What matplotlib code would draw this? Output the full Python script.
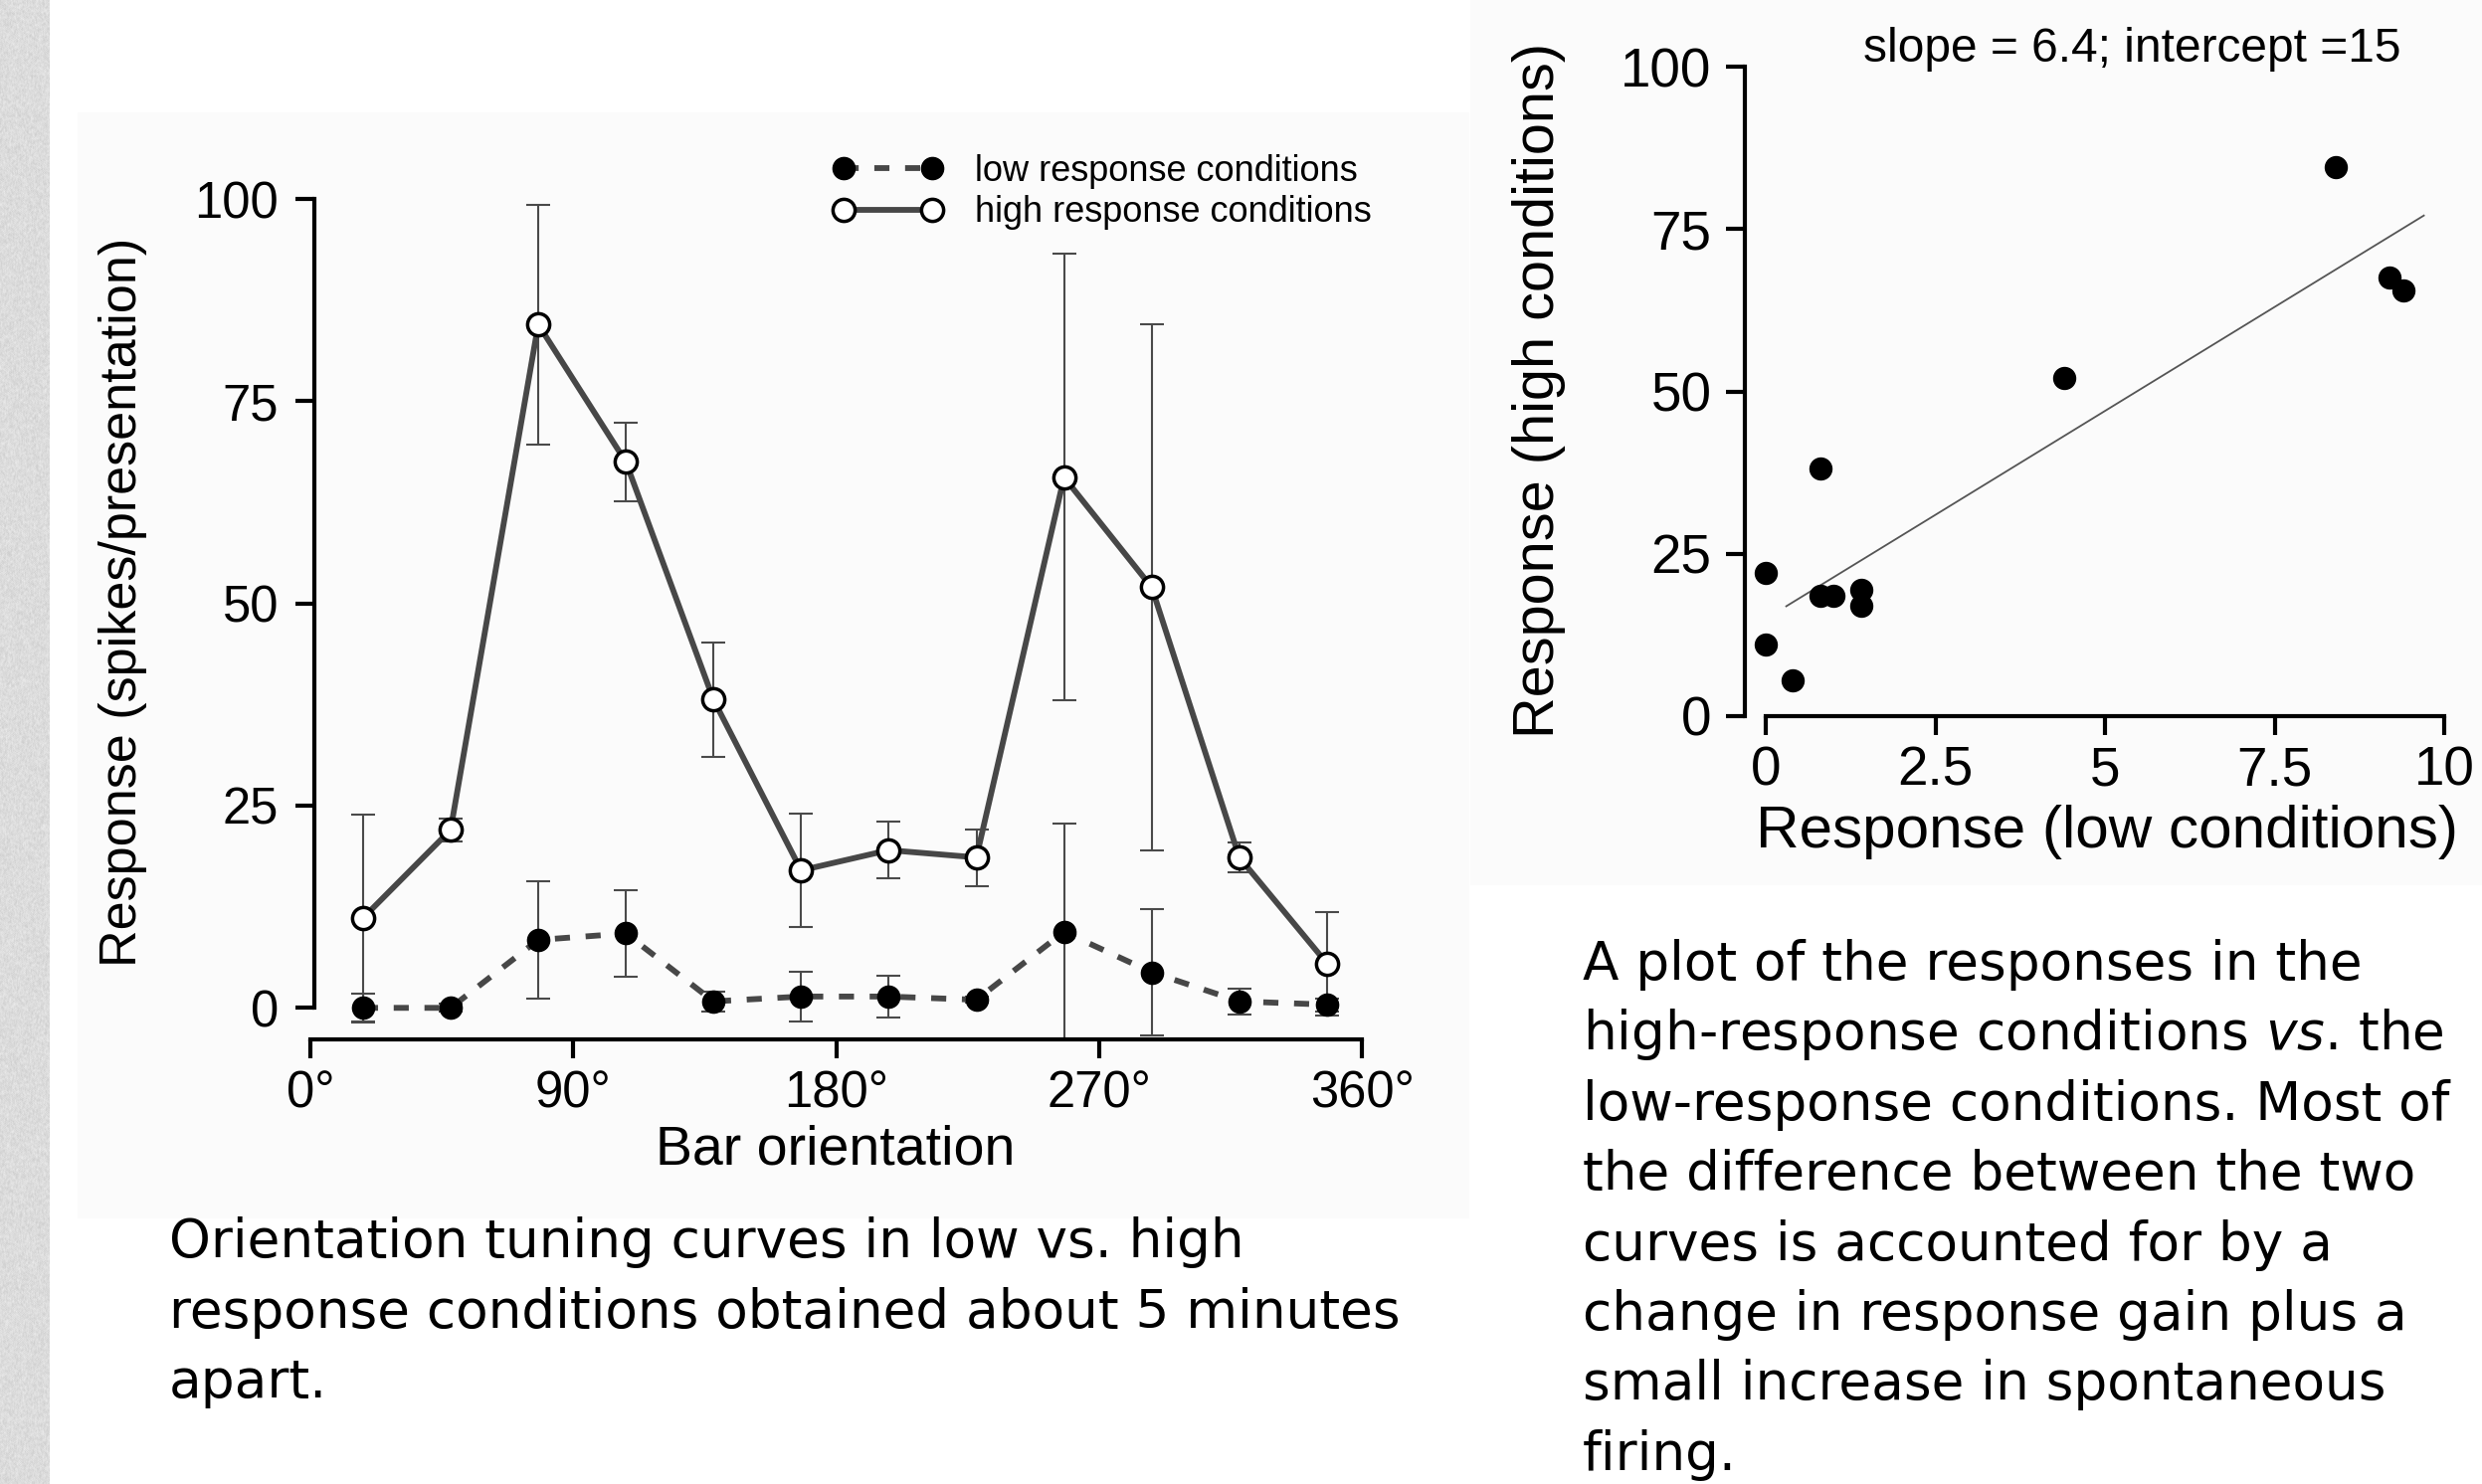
import numpy as np
import matplotlib
matplotlib.use('Agg')
import matplotlib.pyplot as plt
from matplotlib.lines import Line2D
from matplotlib.patches import Rectangle

# 12 bar orientations, mean response and error for the two conditions
orientation = [18, 48, 78, 108, 138, 168, 198, 228, 258, 288, 318, 348]
high_resp = [11.1, 22.0, 84.5, 67.5, 38.1, 17.0, 19.5, 18.6, 65.6, 52.0, 18.6, 5.5]
high_err = [12.8, 1.4, 14.8, 4.9, 7.1, 7.0, 3.5, 3.5, 27.6, 32.5, 1.9, 6.4]
low_resp = [0.0, 0.0, 8.4, 9.2, 0.8, 1.4, 1.4, 1.0, 9.4, 4.4, 0.8, 0.4]
low_err = [1.8, 0.5, 7.3, 5.4, 1.2, 3.1, 2.6, 0.4, 13.4, 7.8, 1.6, 0.8]

orient_ticks = [0, 90, 180, 270, 360]
orient_labels = ['0°', '90°', '180°', '270°', '360°']
resp_ticks = [0, 25, 50, 75, 100]
low_ticks = [0, 2.5, 5, 7.5, 10]
low_labels = ['0', '2.5', '5', '7.5', '10']

# linear fit high vs low
slope = 6.4
intercept = 15
fit_x = [0.3, 9.7]

left_caption = ['Orientation tuning curves in low vs. high',
                'response conditions obtained about 5 minutes',
                'apart.']
right_caption = ['A plot of the responses in the',
                 'high-response conditions $\\mathit{vs}$. the',
                 'low-response conditions. Most of',
                 'the difference between the two',
                 'curves is accounted for by a',
                 'change in response gain plus a',
                 'small increase in spontaneous',
                 'firing.']

plt.rcParams['font.family'] = ['Liberation Sans', 'DejaVu Sans']
plt.rcParams['mathtext.fontset'] = 'dejavusans'

W, H = 2495, 1492
fig = plt.figure(figsize=(W / 100, H / 100), dpi=100)
fig.patch.set_facecolor('white')


def px_rect(l, t, r, b):
    return [l / W, 1 - b / H, (r - l) / W, (b - t) / H]


# speckled grey strip down the left edge
yy, xx = np.mgrid[0:H, 0:50]
n = np.sin(xx * 12.9898 + yy * 78.233) * 43758.5453
n = n - np.floor(n)
n = (n + np.roll(n, 1, 0) + np.roll(n, 1, 1) + np.roll(n, -1, 0)) / 4
strip = 0.80 + 0.12 * n
fig.figimage(strip, xo=0, yo=0, cmap='gray', vmin=0, vmax=1, zorder=-2)

# faint panels behind the two plots
for l, t, r, b in [(78, 113, 1477, 1225), (1478, 0, 2495, 890)]:
    fig.patches.append(Rectangle((l / W, 1 - b / H), (r - l) / W, (b - t) / H,
                                 transform=fig.transFigure, facecolor='#fbfbfb',
                                 edgecolor='none', zorder=-1))

line_col = '#474747'
bar_col = '#4a4a4a'
spine_w = 3.0
curve_w = 4.2
dash = (0, (2.6, 2.7))


def style_axes(ax, fs):
    ax.patch.set_visible(False)
    for s in ['top', 'right']:
        ax.spines[s].set_visible(False)
    for s in ['left', 'bottom']:
        ax.spines[s].set_linewidth(spine_w)
    ax.tick_params(direction='out', length=14, width=spine_w, labelsize=fs)


# ---- tuning curves ----
ax1 = fig.add_axes(px_rect(312, 192, 1375, 1045))
ax1.set_xlim(0, 362)
ax1.set_ylim(-3.9, 101)
style_axes(ax1, 36.5)
ax1.spines['left'].set_position(('data', 1.4))
ax1.spines['left'].set_bounds(0, 100)
ax1.spines['bottom'].set_bounds(0, 360)
ax1.set_xticks(orient_ticks)
ax1.set_xticklabels(orient_labels)
ax1.set_yticks(resp_ticks)
ax1.tick_params(axis='y', pad=12)
ax1.tick_params(axis='x', pad=8)

ax1.errorbar(orientation, high_resp, yerr=high_err, fmt='none', ecolor=bar_col,
             elinewidth=1.5, capsize=8.5, capthick=1.5, zorder=2)
ax1.errorbar(orientation, low_resp, yerr=low_err, fmt='none', ecolor=bar_col,
             elinewidth=1.5, capsize=8.5, capthick=1.5, zorder=2)
ax1.plot(orientation, high_resp, color=line_col, lw=curve_w, marker='o', ms=16,
         mfc='white', mec='black', mew=2.5, zorder=3, clip_on=False)
ax1.plot(orientation, low_resp, color=line_col, lw=curve_w, ls=dash,
         marker='o', ms=16, mfc='black', mec='black', zorder=3, clip_on=False)

ax1.set_ylabel('Response (spikes/presentation)', fontsize=37.5, va='center', ha='center')
ax1.yaxis.set_label_coords(-0.177, 0.515)
ax1.set_xlabel('Bar orientation', fontsize=40, va='center', ha='center')
ax1.xaxis.set_label_coords(0.496, -0.131)

h_low = Line2D([], [], color=line_col, lw=curve_w, ls=dash, marker='o',
               ms=16, mfc='black', mec='black')
h_high = Line2D([], [], color=line_col, lw=curve_w, marker='o', ms=16,
                mfc='white', mec='black', mew=2.5)
ax1.legend([h_low, h_high], ['low response conditions', 'high response conditions'],
           loc='upper left', bbox_to_anchor=(837 / W, 1 - 155 / H),
           bbox_transform=fig.transFigure, frameon=False, numpoints=2,
           handlelength=3.07, handletextpad=0.89, labelspacing=0.17,
           borderpad=0, borderaxespad=0, fontsize=26)

# ---- high vs low scatter ----
ax2 = fig.add_axes(px_rect(1754, 60.5, 2460.4, 720))
ax2.set_xlim(-0.31, 10.05)
ax2.set_ylim(0, 101)
style_axes(ax2, 39.5)
ax2.spines['left'].set_bounds(0, 100)
ax2.spines['bottom'].set_bounds(0, 10)
ax2.set_xticks(low_ticks)
ax2.set_xticklabels(low_labels)
ax2.set_yticks(resp_ticks)
ax2.tick_params(axis='y', pad=10)
ax2.tick_params(axis='x', pad=7)

ax2.scatter(low_resp, high_resp, s=250, color='black', zorder=3, clip_on=False)
fx = np.array(fit_x)
ax2.plot(fx, intercept + slope * fx, color='#555555', lw=1.3, zorder=2)
fig.text(2143 / W, 1 - 50 / H, f'slope = {slope}; intercept ={intercept}',
         fontsize=34.5, ha='center', va='center')

ax2.set_ylabel('Response (high conditions)', fontsize=41.5, va='center', ha='center')
ax2.yaxis.set_label_coords(-0.293, 0.496)
ax2.set_xlabel('Response (low conditions)', fontsize=43.4, va='center', ha='center')
ax2.xaxis.set_label_coords(0.515, -0.177)

# ---- captions ----
for i, line in enumerate(left_caption):
    fig.text(170 / W, 1 - (1264 + 70.5 * i) / H, line, fontsize=38.3,
             family='DejaVu Sans', ha='left', va='baseline')
for i, line in enumerate(right_caption):
    fig.text(1591 / W, 1 - (985 + 70.4 * i) / H, line, fontsize=38.3,
             family='DejaVu Sans', ha='left', va='baseline')

fig.savefig('out.png', dpi=100)
